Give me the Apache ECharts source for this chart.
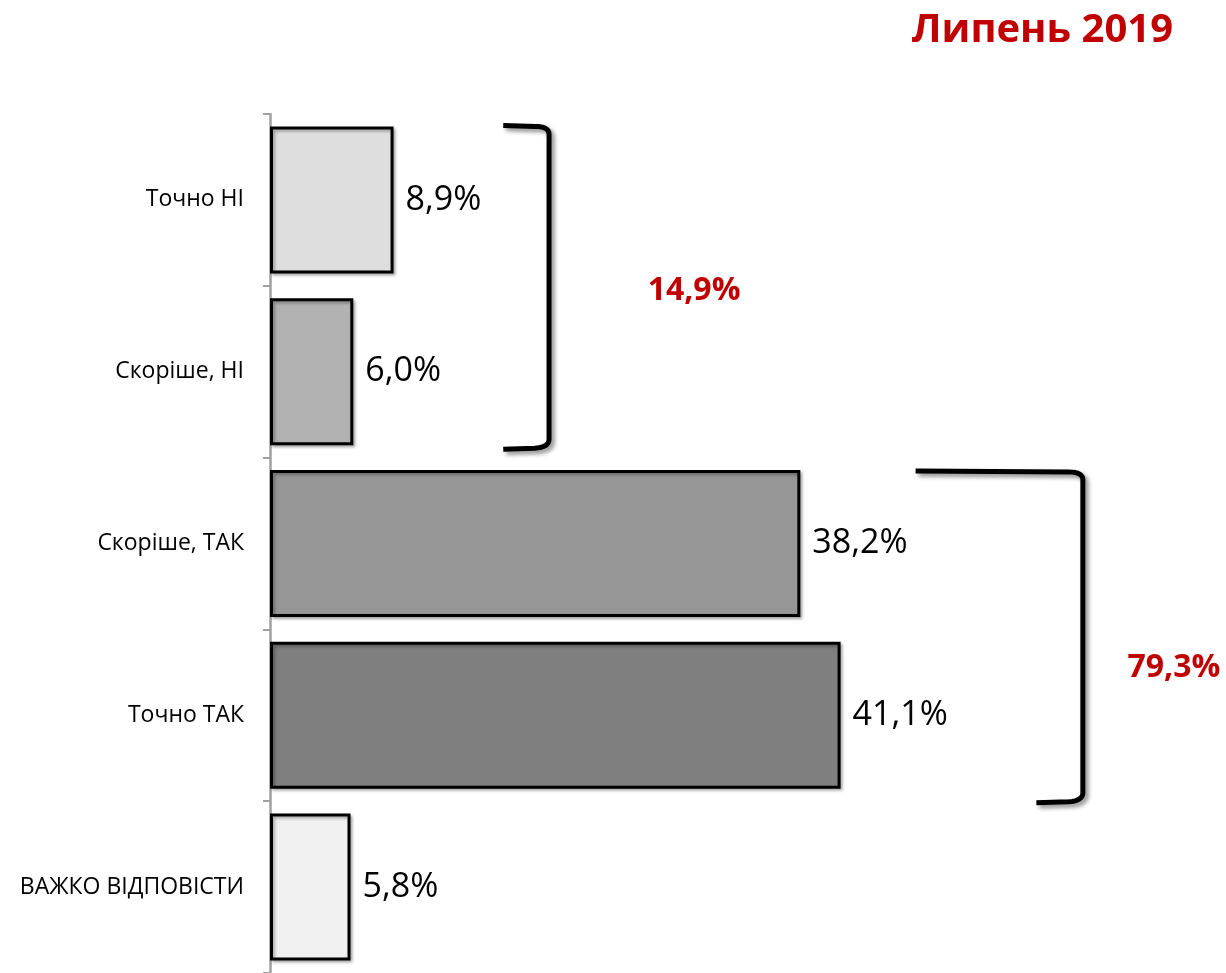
<!DOCTYPE html>
<html>
<head>
<meta charset="utf-8">
<script src="https://cdn.jsdelivr.net/npm/echarts@6/dist/echarts.min.js"></script>
<style>
html,body{margin:0;padding:0;background:#fff;}
#chart{width:1226px;height:973px;}
</style>
</head>
<body>
<div id="chart"></div>
<script>
// ---- data ----
const titleText = 'Липень 2019';
const categories = ['Точно НІ', 'Скоріше, НІ', 'Скоріше, ТАК', 'Точно ТАК', 'ВАЖКО ВІДПОВІСТИ'];
const values = [8.9, 6.0, 38.2, 41.1, 5.8];
const barColors = ['#dedede', '#b2b2b2', '#969696', '#7f7f7f', '#f0f0f0'];
// groups summarised by brackets (index ranges into categories)
const groupFrom = [0, 2];
const groupTo = [1, 3];

// ---- layout (not data) ----
const FONT = '"Open Sans", "Noto Sans", sans-serif';
const bracketLayout = [
  { armTop: 16.8, armBottom: 16.8, vx: 20.1, dyTop: -3, dyBottom: 5, labelDx: 145, labelDy: 4 },
  { armTop: 46.5, armBottom: 55.2, vx: 58.55, dyTop: -1, dyBottom: 15, labelDx: 91, labelDy: 31 }
];
const BAR_W = 147;

function fmt(v) { return v.toFixed(1).replace('.', ',') + '%'; }

const chart = echarts.init(document.getElementById('chart'), null, { renderer: 'canvas' });

const option = {
  animation: false,
  backgroundColor: '#fff',
  title: {
    text: titleText,
    right: 48,
    top: 6,
    textStyle: { fontFamily: FONT, fontSize: 40, fontWeight: 'bold', color: '#c00000' }
  },
  grid: { left: 270, top: 114, width: 833, height: 861, containLabel: false },
  xAxis: { type: 'value', min: 0, max: 60, show: false },
  yAxis: {
    type: 'category',
    inverse: true,
    data: categories,
    axisLine: { show: true, lineStyle: { color: '#a0a0a0', width: 2.5 } },
    axisTick: { show: true, length: 7, lineStyle: { color: '#a0a0a0', width: 2 } },
    axisLabel: { fontFamily: FONT, fontSize: 23, color: '#000', margin: 26 },
    splitLine: { show: false }
  },
  series: [{
    type: 'bar',
    barWidth: BAR_W,
    data: values.map((v, i) => ({ value: v, itemStyle: { color: barColors[i] } })),
    itemStyle: {
      borderColor: '#000', borderWidth: 3,
      shadowColor: 'rgba(0,0,0,0.3)', shadowBlur: 3, shadowOffsetX: 2, shadowOffsetY: 2
    },
    label: {
      show: true, position: 'right', distance: 12,
      formatter: p => fmt(p.value),
      fontFamily: FONT, fontSize: 34, color: '#000'
    }
  }]
};
chart.setOption(option);

// quadratic curve sampling helper for rounded bracket corners
function quad(p0, c, p1, n) {
  const pts = [];
  for (let k = 1; k <= n; k++) {
    const t = k / n, u = 1 - t;
    pts.push([u * u * p0[0] + 2 * u * t * c[0] + t * t * p1[0],
              u * u * p0[1] + 2 * u * t * c[1] + t * t * p1[1]]);
  }
  return pts;
}

// ---- brackets & group totals, positioned through the axes ----
const graphics = [];
groupFrom.forEach((from, g) => {
  const to = groupTo[g];
  const L = bracketLayout[g];
  const yTop = chart.convertToPixel({ yAxisIndex: 0 }, categories[from]) - 143 / 2 + L.dyTop;
  const yBot = chart.convertToPixel({ yAxisIndex: 0 }, categories[to]) + 143 / 2 + L.dyBottom;
  const vx = chart.convertToPixel({ xAxisIndex: 0 }, L.vx);
  const ax1 = chart.convertToPixel({ xAxisIndex: 0 }, L.armTop);
  const ax2 = chart.convertToPixel({ xAxisIndex: 0 }, L.armBottom);
  let pts = [[ax1, yTop], [vx - 14, yTop + 1]];
  pts = pts.concat(quad([vx - 14, yTop + 1], [vx, yTop + 1], [vx, yTop + 9], 8));
  pts.push([vx, yBot - 9]);
  pts = pts.concat(quad([vx, yBot - 9], [vx, yBot - 1], [vx - 14, yBot], 8));
  pts.push([ax2, yBot + 1]);
  graphics.push({
    type: 'polyline',
    shape: { points: pts },
    style: {
      fill: null, stroke: '#000', lineWidth: 5, lineJoin: 'round',
      shadowColor: 'rgba(0,0,0,0.45)', shadowBlur: 4, shadowOffsetX: 3, shadowOffsetY: 3
    },
    silent: true
  });
  let sum = 0;
  for (let i = from; i <= to; i++) sum += values[i];
  graphics.push({
    type: 'text',
    x: vx + L.labelDx,
    y: (yTop + yBot) / 2 + L.labelDy,
    style: {
      text: fmt(Math.round(sum * 10) / 10),
      fontFamily: FONT, fontSize: 32, fontWeight: 'bold', fill: '#c00000',
      align: 'center', verticalAlign: 'middle'
    },
    silent: true
  });
});
chart.setOption({ graphic: graphics });
</script>
</body>
</html>
